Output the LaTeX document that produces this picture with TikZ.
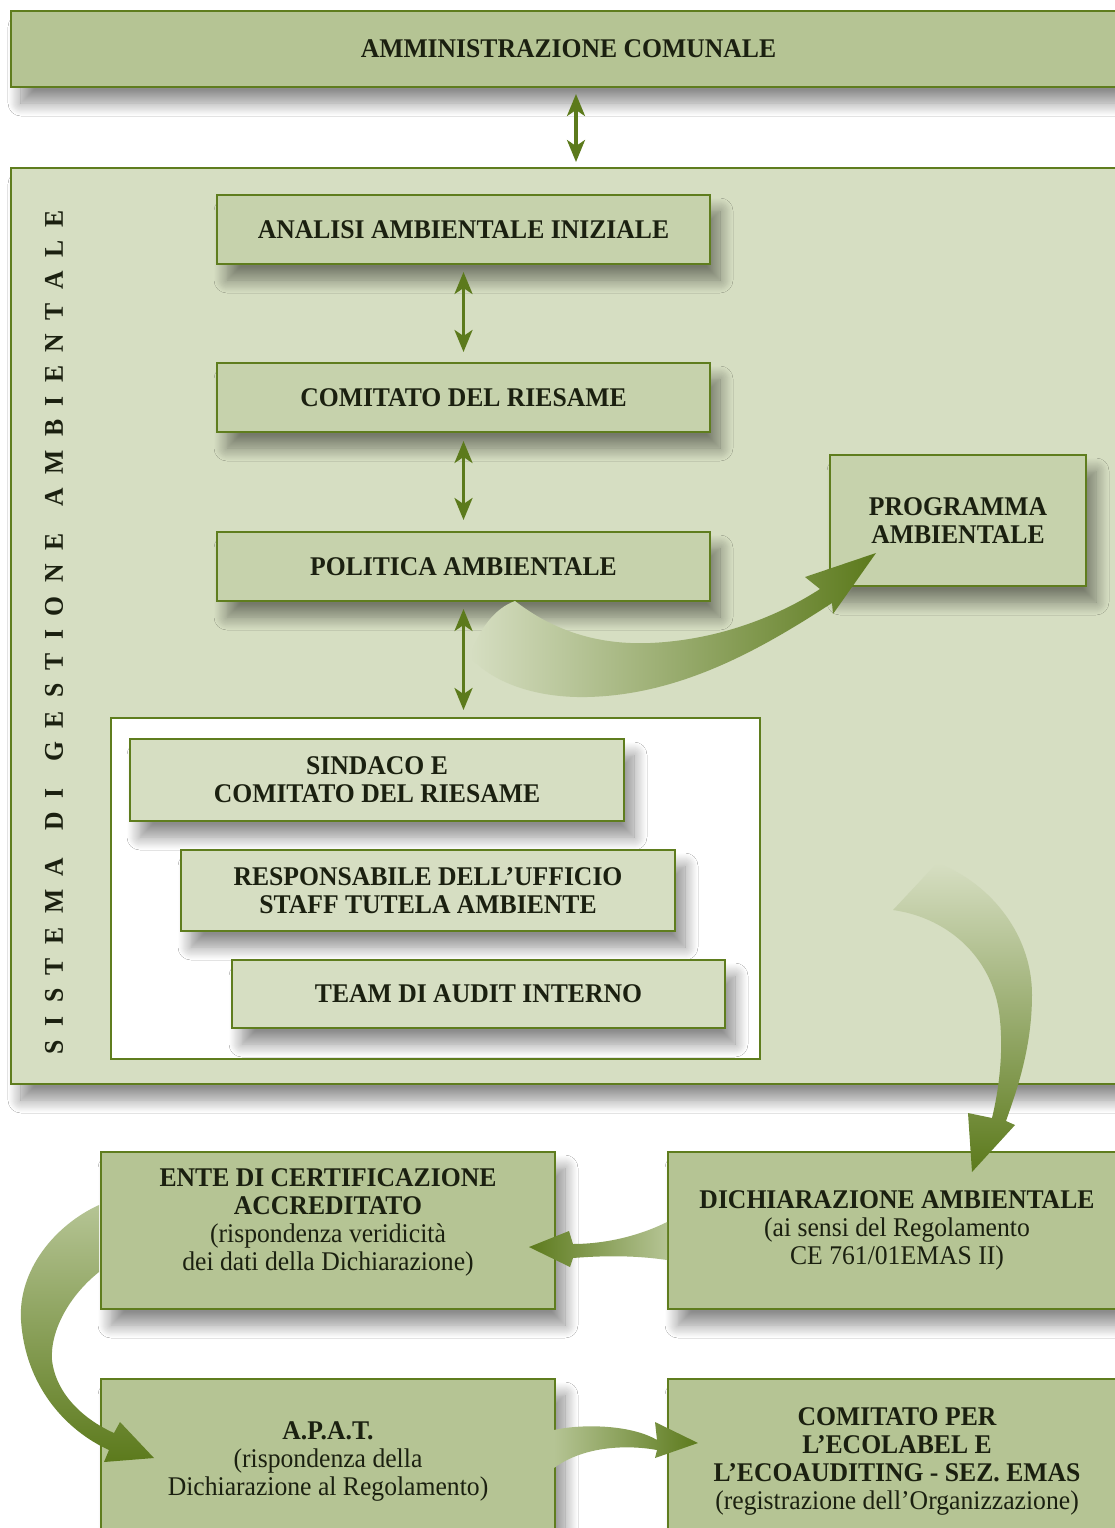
\documentclass[tikz,border=0pt]{standalone}
\usepackage{fontspec}
\setmainfont{Liberation Serif}[FakeStretch=0.95]
\usetikzlibrary{arrows.meta,shadows.blur,calc}
\definecolor{olv}{RGB}{95,125,30}
\definecolor{arrolv}{RGB}{92,122,28}
\definecolor{boxdark}{RGB}{181,196,148}
\definecolor{boxmid}{RGB}{198,210,172}
\definecolor{panelc}{RGB}{214,222,194}
\definecolor{txt}{RGB}{27,32,16}
\tikzset{
 bx/.style={draw=olv, line width=1pt, anchor=north west, inner sep=0pt, align=center, text=txt,
   font=\fontsize{13.5}{14}\selectfont,
   blur shadow={shadow xshift=5pt, shadow yshift=-8pt, shadow blur radius=6.5pt, shadow blur steps=14, shadow opacity=45}},
 outerbox/.style={bx, fill=boxdark},
 midbox/.style={bx, fill=boxmid},
 lightbox/.style={bx, fill=panelc},
 dbl/.style={draw=arrolv, line width=1.6pt,
   {Stealth[length=11pt,width=9pt,inset=3pt]}-{Stealth[length=11pt,width=9pt,inset=3pt]}},
}
\begin{document}
\begin{tikzpicture}[x=0.5pt,y=-0.5pt]
\useasboundingbox (0,0) rectangle (1115,1528);
\fill[white] (0,0) rectangle (1115,1528);

% top box and panel
\node[outerbox, minimum width=557.5pt, minimum height=38pt] (admin) at (10,10) {\bfseries AMMINISTRAZIONE COMUNALE};
\node[bx, fill=panelc, minimum width=557.5pt, minimum height=458pt] (panel) at (10,167) {};

% vertical label
\node[rotate=90, text=txt, inner sep=0pt, font=\bfseries\fontsize{13.5}{14}\selectfont] (vt) at (54,632)
 {\makebox[422pt]{S\hfill I\hfill S\hfill T\hfill E\hfill M\hfill A\hfill\hfill D\hfill I\hfill\hfill G\hfill E\hfill S\hfill T\hfill I\hfill O\hfill N\hfill E\hfill\hfill A\hfill M\hfill B\hfill I\hfill E\hfill N\hfill T\hfill A\hfill L\hfill E}};

% chain of boxes
\node[midbox, minimum width=246.5pt, minimum height=34.5pt] (analisi) at (216,194) {\bfseries ANALISI AMBIENTALE INIZIALE};
\node[midbox, minimum width=246.5pt, minimum height=34.5pt] (comitato) at (216,362) {\bfseries COMITATO DEL RIESAME};
\node[midbox, minimum width=246.5pt, minimum height=34.5pt] (politica) at (216,531) {\bfseries POLITICA AMBIENTALE};
\node[midbox, minimum width=128pt, minimum height=65.5pt] (programma) at (829,454) {\bfseries PROGRAMMA\\\bfseries AMBIENTALE};

% white box with team boxes
\node[draw=olv, line width=1pt, fill=white, anchor=north west, inner sep=0pt, minimum width=324.5pt, minimum height=170.5pt] (wbox) at (110,717) {};
\node[lightbox, minimum width=247pt, minimum height=41pt] (sindaco) at (129,738) {\bfseries SINDACO E\\\bfseries COMITATO DEL RIESAME};
\node[lightbox, minimum width=247pt, minimum height=40.5pt] (respons) at (180,849) {\bfseries RESPONSABILE DELL’UFFICIO\\\bfseries STAFF TUTELA AMBIENTE};
\node[lightbox, minimum width=246.5pt, minimum height=34pt] (team) at (231,959) {\bfseries TEAM DI AUDIT INTERNO};

% lower boxes
\node[outerbox, minimum width=229pt, minimum height=78.5pt] (dich) at (667,1151)
 {\bfseries DICHIARAZIONE AMBIENTALE\\(ai sensi del Regolamento\\CE 761/01EMAS II)};
\node[outerbox, minimum width=227pt, minimum height=78.5pt] (ente) at (100,1151)
 {\bfseries ENTE DI CERTIFICAZIONE\\\bfseries ACCREDITATO\\(rispondenza veridicità\\dei dati della Dichiarazione)\\[-3pt]};
\node[outerbox, minimum width=227pt, minimum height=82pt] (apat) at (100,1378)
 {\bfseries A.P.A.T.\\(rispondenza della\\Dichiarazione al Regolamento)};
\node[outerbox, minimum width=229pt, minimum height=82pt] (comper) at (667,1378)
 {\bfseries COMITATO PER\\\bfseries L’ECOLABEL E\\\bfseries L’ECOAUDITING - SEZ. EMAS\\(registrazione dell’Organizzazione)};

% straight double arrows
\coordinate (ax) at (576,0);
\draw[dbl, shorten <=3pt, shorten >=2.5pt] (admin.south -| ax) -- (panel.north -| ax);
\draw[dbl, shorten <=3.5pt, shorten >=5pt] (analisi.south) -- (comitato.north);
\draw[dbl, shorten <=4pt, shorten >=5.5pt] (comitato.south) -- (politica.north);
\draw[dbl, shorten <=3.5pt, shorten >=3.5pt] (politica.south) -- (politica.south |- wbox.north);

% curved arrow: politica -> programma
\shade[left color=panelc, right color=arrolv]
 (515,601) .. controls (555,632) and (600,645) .. (650,643)
 .. controls (720,640) and (780,615) .. (820,589)
 -- (805,577) -- (876,553) -- (833,614) -- (832,603)
 .. controls (760,650) and (680,695) .. (587,697)
 .. controls (540,698) and (495,685) .. (470,657)
 .. controls (478,630) and (495,608) .. cycle;

% curved arrow: panel -> dichiarazione
\shade[top color=panelc, bottom color=arrolv]
 (937,863) .. controls (985,880) and (1032,930) .. (1032,995)
 .. controls (1032,1050) and (1015,1095) .. (1006,1121)
 -- (1015,1125) -- (972,1172) -- (968,1113) -- (992,1118)
 .. controls (1000,1085) and (1003,1050) .. (1000,1020)
 .. controls (995,960) and (950,918) .. (893,910) -- cycle;

% curved arrow: dichiarazione -> ente
\shade[left color=arrolv, right color=boxdark]
 (667,1222) .. controls (635,1238) and (600,1244) .. (573,1244)
 -- (569,1231) -- (529,1247) -- (570,1267) -- (573,1258)
 .. controls (610,1255) and (640,1256) .. (667,1260) -- cycle;

% curved arrow: ente -> apat
\shade[top color=boxdark, bottom color=arrolv]
 (99,1272) .. controls (70,1295) and (50,1330) .. (52,1360)
 .. controls (56,1395) and (85,1420) .. (114,1433)
 -- (120,1422) -- (154,1458) -- (104,1462) -- (109,1450)
 .. controls (65,1430) and (25,1385) .. (21,1320)
 .. controls (18,1270) and (55,1225) .. (99,1205) -- cycle;

% curved arrow: apat -> comitato per
\shade[left color=boxdark, right color=arrolv]
 (554,1430) .. controls (580,1424) and (630,1424) .. (657,1440)
 -- (655,1422) -- (698,1443) -- (655,1458) -- (657,1450)
 .. controls (630,1445) and (585,1445) .. (554,1468) -- cycle;
\end{tikzpicture}
\end{document}
